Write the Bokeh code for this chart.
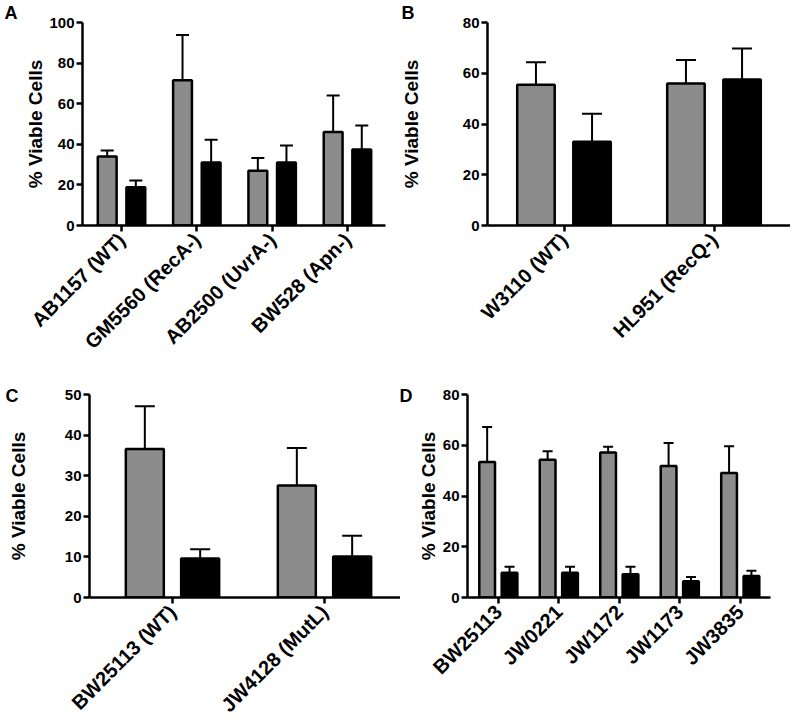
import math
from bokeh.plotting import figure
from bokeh.models import ColumnDataSource, Range1d, FixedTicker, Whisker, TeeHead, Title
from bokeh.transform import dodge
from bokeh.layouts import column, row
from bokeh.embed import file_html
from bokeh.resources import INLINE

# ---------------- data ----------------
a_strains = ["AB1157 (WT)", "GM5560 (RecA-)", "AB2500 (UvrA-)", "BW528 (Apn-)"]
a_gray = [34, 71.5, 27, 46]
a_gray_err = [3, 22.3, 6.2, 18]
a_black = [18.8, 31, 31, 37.5]
a_black_err = [3.4, 11.3, 8.4, 11.8]
a_yticks = [0, 20, 40, 60, 80, 100]

b_strains = ["W3110 (WT)", "HL951 (RecQ-)"]
b_gray = [55.5, 56]
b_gray_err = [8.8, 9.2]
b_black = [33, 57.5]
b_black_err = [11, 12.3]
b_yticks = [0, 20, 40, 60, 80]

c_strains = ["BW25113 (WT)", "JW4128 (MutL)"]
c_gray = [36.6, 27.6]
c_gray_err = [10.5, 9.2]
c_black = [9.6, 10.1]
c_black_err = [2.3, 5.1]
c_yticks = [0, 10, 20, 30, 40, 50]

d_strains = ["BW25113", "JW0221", "JW1172", "JW1173", "JW3835"]
d_gray = [53.4, 54.3, 57.1, 51.8, 49.1]
d_gray_err = [13.8, 3.3, 2.3, 9.1, 10.5]
d_black = [9.8, 9.8, 9.2, 6.4, 8.5]
d_black_err = [2.3, 2.3, 2.9, 1.7, 2.0]
d_yticks = [0, 20, 40, 60, 80]

FONT = "Liberation Sans"
GRAY = "#8c8c8c"
FRAME_H = 203


def panel(letter, cats, g, ge, b, be, yticks, xr, frame_w, borders, standoff,
          bar_w, offs, cap, letter_dx, letter_standoff):
    n = len(cats)
    src = ColumnDataSource(dict(
        idx=list(range(n)),
        g=g, g_hi=[v + e for v, e in zip(g, ge)],
        b=b, b_hi=[v + e for v, e in zip(b, be)],
    ))
    left, right, top, bottom = borders
    ytop = yticks[-1]
    p = figure(frame_width=frame_w, frame_height=FRAME_H,
               x_range=Range1d(xr[0], xr[1]),
               y_range=Range1d(0, ytop),
               output_backend="svg", toolbar_location=None,
               min_border_left=left, min_border_right=right,
               min_border_top=top, min_border_bottom=bottom)
    p.outline_line_color = None
    p.xgrid.visible = False
    p.ygrid.visible = False

    # panel letter as a left-aligned title shifted into the left margin
    p.title = Title(text=letter, align="left", offset=letter_dx, standoff=letter_standoff,
                    text_font=FONT, text_font_style="bold", text_font_size="18px",
                    text_color="black")

    for col, hi, off, color in (("g", "g_hi", -offs, GRAY), ("b", "b_hi", offs, "black")):
        xx = dodge("idx", off, range=p.x_range)
        p.add_layout(Whisker(source=src, base=xx, lower=col, upper=hi,
                             lower_head=None,
                             upper_head=TeeHead(size=cap, line_width=2, line_color="black"),
                             line_width=2, line_color="black", level="glyph"))
        p.vbar(x=xx, top=col, bottom=0, width=bar_w, source=src,
               fill_color=color, line_color="black", line_width=2.5)

    for ax in (p.xaxis[0], p.yaxis[0]):
        ax.axis_line_width = 2.5
        ax.axis_line_color = "black"
        ax.major_tick_line_width = 2.5
        ax.major_tick_out = 6
        ax.major_tick_in = 0
        ax.minor_tick_out = 0
        ax.minor_tick_in = 0
        ax.major_label_text_font = FONT
        ax.major_label_text_font_style = "bold"
        ax.major_label_text_color = "black"

    p.xaxis.ticker = FixedTicker(ticks=list(range(n)))
    p.xaxis.major_label_overrides = {i: c for i, c in enumerate(cats)}
    p.xaxis.major_label_orientation = math.pi / 4
    p.xaxis.major_label_text_font_size = "20px"
    p.xaxis.major_label_standoff = 5

    p.yaxis.ticker = FixedTicker(ticks=yticks)
    p.yaxis.major_label_text_font_size = "15px"
    p.yaxis.major_label_standoff = 2
    p.yaxis.axis_label = "% Viable Cells"
    p.yaxis.axis_label_text_font = FONT
    p.yaxis.axis_label_text_font_style = "bold"
    p.yaxis.axis_label_text_font_size = "19px"
    p.yaxis.axis_label_text_color = "black"
    p.yaxis.axis_label_standoff = standoff
    return p


pA = panel("A", a_strains, a_gray, a_gray_err, a_black, a_black_err, a_yticks,
           (-0.518, 3.505), 303, (82, 12, 21, 152), 0, 0.25, 0.19, 13, -78, 0)
pB = panel("B", b_strains, b_gray, b_gray_err, b_black, b_black_err, b_yticks,
           (-0.51, 1.51), 303, (89, 0, 21, 152), 38, 0.25, 0.187, 20, -86, 0)
pC = panel("C", c_strains, c_gray, c_gray_err, c_black, c_black_err, c_yticks,
           (-0.546, 1.5), 311, (89, 0, 17, 119), 33, 0.25, 0.182, 20, -84, -22)
pD = panel("D", d_strains, d_gray, d_gray_err, d_black, d_black_err, d_yticks,
           (-0.51, 4.5), 303, (67, 16, 17, 119), 1, 0.26, 0.185, 10, -68, -22)

layout = column(row(pA, pB, spacing=0), row(pC, pD, spacing=0), spacing=0)

open("out.html", "w").write(file_html(layout, INLINE))
